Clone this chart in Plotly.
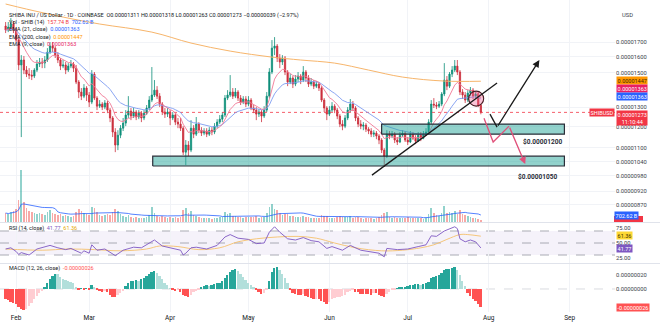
import numpy as np
import pandas as pd
import plotly.graph_objects as go

# ---------------------------------------------------------------- data
# Prices are listed in units of 0.00000001 USD (1e-8), volume in billions.
PRICE_UNIT = 1e-8
candle_dates = pd.date_range("2025-01-28", "2025-07-29", freq="D")

first_open_e8 = 1816
close_e8 = [
    1786, 1808, 1831, 1786,
    1714, 1547, 1579, 1515, 1490, 1484, 1478, 1515, 1553, 1566,
    1559, 1579, 1631, 1672, 1658, 1611, 1579, 1540, 1547, 1515,
    1540, 1553, 1527, 1442, 1384, 1361, 1407, 1367, 1328, 1490,
    1350, 1306, 1317, 1301, 1323, 1285, 1244, 1174, 1113, 1159,
    1193, 1218, 1259, 1280, 1254, 1275, 1249, 1269, 1244, 1269,
    1296, 1339, 1367, 1395, 1361, 1317, 1275, 1264, 1275, 1244,
    1259, 1223, 1213, 1193, 1081, 1113, 1090, 1193, 1164, 1213,
    1183, 1169, 1179, 1164, 1183, 1174, 1203, 1223, 1238, 1259,
    1350, 1367, 1384, 1361, 1384, 1350, 1328, 1345, 1317, 1339,
    1296, 1285, 1264, 1275, 1254, 1285, 1361, 1503, 1658, 1672,
    1592, 1566, 1592, 1503, 1442, 1466, 1430, 1460, 1478, 1454,
    1503, 1466, 1430, 1442, 1418, 1430, 1407, 1339, 1296, 1264,
    1285, 1306, 1285, 1254, 1213, 1203, 1244, 1285, 1317, 1296,
    1244, 1213, 1203, 1208, 1188, 1179, 1164, 1169, 1155, 1136,
    1090, 1063, 1164, 1155, 1164, 1136, 1127, 1159, 1169, 1136,
    1127, 1164, 1145, 1131, 1159, 1145, 1164, 1174, 1223, 1317,
    1312, 1306, 1317, 1373, 1454, 1418, 1490, 1515, 1540, 1503,
    1384, 1367, 1339, 1378, 1395, 1361, 1373, 1311, 1273,
]
high_e8 = [
    1846, 1846, 1876, 1853,
    1801, 1728, 1611, 1605, 1540, 1527, 1515, 1527, 1579, 1592,
    1592, 1605, 1658, 1700, 1700, 1672, 1631, 1592, 1579, 1566,
    1559, 1579, 1566, 1547, 1454, 1407, 1430, 1418, 1384, 1515,
    1503, 1361, 1339, 1328, 1339, 1334, 1296, 1254, 1193, 1183,
    1208, 1244, 1285, 1361, 1296, 1296, 1285, 1285, 1280, 1285,
    1312, 1361, 1534, 1454, 1418, 1378, 1328, 1296, 1296, 1285,
    1275, 1269, 1244, 1244, 1203, 1136, 1131, 1233, 1208, 1249,
    1223, 1198, 1193, 1193, 1198, 1198, 1218, 1238, 1259, 1275,
    1367, 1395, 1484, 1407, 1407, 1395, 1367, 1361, 1361, 1361,
    1350, 1312, 1301, 1290, 1285, 1306, 1384, 1527, 1714, 1735,
    1686, 1618, 1611, 1605, 1515, 1490, 1478, 1484, 1503, 1490,
    1540, 1515, 1484, 1466, 1454, 1448, 1442, 1418, 1350, 1306,
    1306, 1328, 1317, 1296, 1264, 1233, 1259, 1301, 1345, 1334,
    1306, 1254, 1233, 1223, 1218, 1198, 1193, 1183, 1179, 1164,
    1145, 1099, 1183, 1179, 1179, 1174, 1150, 1174, 1183, 1179,
    1150, 1179, 1174, 1159, 1174, 1174, 1179, 1193, 1238, 1339,
    1350, 1328, 1334, 1384, 1559, 1478, 1503, 1540, 1579, 1579,
    1515, 1401, 1384, 1395, 1413, 1407, 1390, 1384, 1318,
]
low_e8 = [
    1764, 1771, 1793, 1764,
    1700, 1515, 1150, 1490, 1472, 1460, 1454, 1466, 1503, 1534,
    1527, 1527, 1566, 1618, 1631, 1592, 1559, 1515, 1527, 1490,
    1503, 1527, 1503, 1430, 1350, 1339, 1350, 1334, 1301, 1317,
    1339, 1285, 1296, 1285, 1290, 1269, 1223, 1150, 1081, 1090,
    1145, 1179, 1203, 1244, 1233, 1244, 1233, 1238, 1223, 1233,
    1259, 1285, 1328, 1356, 1345, 1301, 1259, 1244, 1249, 1208,
    1233, 1208, 1193, 1179, 1068, 1025, 1063, 1081, 1145, 1155,
    1169, 1155, 1159, 1150, 1155, 1159, 1164, 1193, 1213, 1223,
    1249, 1339, 1356, 1345, 1350, 1334, 1312, 1317, 1301, 1306,
    1285, 1269, 1233, 1249, 1223, 1244, 1275, 1350, 1490, 1611,
    1566, 1527, 1547, 1484, 1418, 1430, 1407, 1418, 1442, 1430,
    1442, 1442, 1413, 1418, 1401, 1407, 1390, 1328, 1275, 1233,
    1254, 1275, 1269, 1238, 1198, 1183, 1193, 1233, 1275, 1280,
    1228, 1198, 1188, 1183, 1174, 1164, 1150, 1150, 1140, 1117,
    1077, 1017, 1055, 1140, 1145, 1122, 1113, 1122, 1150, 1127,
    1113, 1122, 1136, 1117, 1127, 1131, 1140, 1155, 1164, 1213,
    1296, 1290, 1296, 1306, 1361, 1395, 1407, 1472, 1503, 1484,
    1367, 1345, 1323, 1328, 1361, 1345, 1350, 1301, 1263,
]
volume_b = [
    900, 800, 1000, 1100,
    1300, 2200, 5200, 2000, 1400, 1100, 1000, 900, 800, 900,
    800, 700, 1000, 1200, 900, 800, 700, 800, 600, 700,
    600, 550, 600, 1000, 1300, 1100, 900, 800, 700, 1500,
    1400, 1000, 700, 650, 700, 800, 700, 1000, 1300, 1100,
    800, 600, 550, 700, 500, 450, 500, 400, 450, 420,
    500, 700, 1500, 900, 600, 550, 600, 500, 450, 550,
    450, 500, 450, 500, 1200, 1400, 900, 1100, 700, 650,
    500, 450, 400, 420, 380, 350, 400, 450, 500, 550,
    1000, 800, 900, 650, 600, 550, 500, 450, 500, 480,
    550, 500, 600, 450, 500, 550, 900, 1500, 1800, 1300,
    1200, 900, 700, 800, 850, 600, 650, 550, 500, 500,
    650, 550, 500, 450, 450, 400, 450, 700, 650, 600,
    450, 400, 420, 500, 650, 550, 500, 550, 600, 450,
    550, 500, 450, 350, 400, 380, 420, 350, 400, 500,
    700, 900, 1000, 550, 450, 500, 450, 400, 380, 450,
    500, 450, 400, 420, 400, 380, 350, 450, 800, 1400,
    900, 700, 650, 900, 1600, 900, 1000, 900, 1100, 800,
    1200, 800, 700, 600, 500, 450, 400, 328.9, 157.74,
]
macd_hist_e8 = [
    -14, -16, -18, -20,
    -22, -26, -29, -30, -28, -25, -20, -15, -10, -6,
    -3, 3, 8, 14, 19, 22, 21, 17, 14, 13,
    12, 10, 8, 2, -1, 1, -1, 1, -2, 5,
    2, -2, -3, -4, -3, -5, -8, -11, -12, -9,
    -6, -3, 4, 8, 11, 12, 13, 12, 14, 16,
    18, 21, 24, 25, 23, 19, 14, 9, 5, 1,
    -2, -3, -2, -4, -8, -10, -11, -8, -5, -3,
    -1, 3, 4, 5, 4, 5, 7, 8, 9, 11,
    16, 20, 24, 27, 28, 25, 21, 17, 13, 9,
    6, 3, -2, -5, -7, -6, -1, 12, 24, 30,
    31, 27, 22, 15, 8, -2, -6, -7, -8, -9,
    -7, -10, -12, -13, -15, -14, -15, -17, -19, -21,
    -18, -15, -13, -12, -11, -10, -8, -5, -3, -2,
    -4, -5, -7, -7, -7, -7, -8, -6, -6, -8,
    -10, -12, -7, -4, -2, -1, 1, 2, 2, 3,
    4, 5, 6, 7, 7, 6, 7, 8, 10, 15,
    17, 19, 20, 23, 27, 28, 29, 30, 31, 27,
    20, 12, 4, -6, -10, -14, -17, -21, -26,
]

ema200_dates = ["2025-01-28", "2025-02-05", "2025-02-19", "2025-03-05", "2025-03-25",
                "2025-04-09", "2025-04-24", "2025-05-10", "2025-05-21", "2025-06-03",
                "2025-06-16", "2025-06-29", "2025-07-15", "2025-07-29"]
ema200_e8 = [1988, 1947, 1884, 1831, 1771, 1693, 1638, 1598, 1579, 1559, 1515, 1472, 1448, 1447]

rsi_dates = ["2025-01-28", "2025-01-30", "2025-02-01", "2025-02-02", "2025-02-03", "2025-02-06",
             "2025-02-09", "2025-02-14", "2025-02-17", "2025-02-20", "2025-02-22", "2025-02-26",
             "2025-02-27", "2025-03-01", "2025-03-02", "2025-03-04", "2025-03-07", "2025-03-11",
             "2025-03-14", "2025-03-18", "2025-03-21", "2025-03-24", "2025-03-26", "2025-03-29",
             "2025-04-01", "2025-04-05", "2025-04-06", "2025-04-07", "2025-04-09", "2025-04-11",
             "2025-04-15", "2025-04-19", "2025-04-22", "2025-04-24", "2025-04-27", "2025-05-01",
             "2025-05-04", "2025-05-07", "2025-05-09", "2025-05-11", "2025-05-13", "2025-05-16",
             "2025-05-19", "2025-05-22", "2025-05-25", "2025-05-28", "2025-05-31", "2025-06-02",
             "2025-06-06", "2025-06-09", "2025-06-13", "2025-06-17", "2025-06-20", "2025-06-22",
             "2025-06-23", "2025-06-27", "2025-07-01", "2025-07-05", "2025-07-08", "2025-07-10",
             "2025-07-12", "2025-07-15", "2025-07-17", "2025-07-19", "2025-07-20", "2025-07-21",
             "2025-07-23", "2025-07-25", "2025-07-27", "2025-07-28", "2025-07-29"]
rsi_values = [40, 42, 36, 31, 34, 30,
              40, 46, 42, 39, 41, 33,
              37, 33, 47, 38, 40, 29,
              38, 43, 42, 49, 55, 45,
              42, 38, 30, 33, 42, 43,
              40, 46, 60, 64, 58, 56,
              49, 50, 68, 77, 68, 57,
              55, 59, 54, 52, 41, 44,
              38, 46, 38, 35, 33, 27,
              41, 39, 40, 44, 47, 62,
              61, 70, 73, 77, 74, 57,
              52, 55, 52, 46, 41.77]
rsi_ma_dates = ["2025-01-28", "2025-02-11", "2025-02-21", "2025-03-03", "2025-03-13",
                "2025-03-23", "2025-03-28", "2025-04-04", "2025-04-12", "2025-04-20",
                "2025-04-27", "2025-05-04", "2025-05-12", "2025-05-20", "2025-05-27",
                "2025-06-03", "2025-06-11", "2025-06-21", "2025-06-29", "2025-07-06",
                "2025-07-11", "2025-07-16", "2025-07-21", "2025-07-24", "2025-07-29"]
rsi_ma_values = [40, 38, 40, 39, 37, 40, 45, 44, 39, 42, 52, 57, 60, 61, 58,
                 50, 42, 37, 38, 42, 47, 56, 64, 64, 61.36]

month_ticks = ["2025-02-01", "2025-03-01", "2025-04-01", "2025-05-01",
               "2025-06-01", "2025-07-01", "2025-08-01", "2025-09-01"]
month_labels = ["Feb", "Mar", "Apr", "May", "Jun", "Jul", "Aug", "Sep"]
price_ticks_e8 = [1700, 1600, 1500, 1300, 1200, 1100, 1040, 980, 920, 870]

# chart drawings: support zones, trendline and projected paths (dates, prices in 1e-8)
zone_upper = dict(x0="2025-06-21", x1="2025-08-30", lo=1164, hi=1213)
zone_lower = dict(x0="2025-03-25 08:00", x1="2025-08-30", lo=1021, hi=1063)
trend_x = ["2025-06-17 07:00", "2025-08-04 05:00"]
trend_e8 = [983.5, 1436]
bull_x = ["2025-08-01 12:00", "2025-08-04 05:00", "2025-08-20 10:00"]
bull_e8 = [1264, 1198, 1579]
bear_x = ["2025-07-30 05:00", "2025-08-02 17:00", "2025-08-08 19:00", "2025-08-15 00:00"]
bear_e8 = [1243, 1127, 1203, 1029]
circle_center_x = "2025-07-27 05:00"
circle_center_e8 = 1347

assert len(close_e8) == len(high_e8) == len(low_e8) == len(volume_b) == len(macd_hist_e8) == len(candle_dates)

# ---------------------------------------------------------------- derived series
close = np.array(close_e8, float) * PRICE_UNIT
high = np.array(high_e8, float) * PRICE_UNIT
low = np.array(low_e8, float) * PRICE_UNIT
open_ = np.concatenate([[first_open_e8], close_e8[:-1]]).astype(float) * PRICE_UNIT
up = close >= open_

ema9 = pd.Series(close).ewm(span=9, adjust=False).mean()
ema21 = pd.Series(close).ewm(span=21, adjust=False).mean()
vol = np.array(volume_b, float)
vol_sma = pd.Series(vol).rolling(14, min_periods=1).mean()
hist = np.array(macd_hist_e8, float) * PRICE_UNIT

hist_colors = []
for i, h in enumerate(hist):
    prev = hist[i - 1] if i else h
    if h >= 0:
        hist_colors.append("#26A69A" if h >= prev else "#B2DFDB")
    else:
        hist_colors.append("#FF5252" if h <= prev else "#FFCDD2")

# ---------------------------------------------------------------- geometry
W, H = 660, 330
ML, MR, MT, MB = 0, 45, 0, 18
PW, PH = W - ML - MR, H - MT - MB
X_RANGE = ["2025-01-25 20:18", "2025-09-18 09:00"]


def py(pix):
    """paper y from a pixel row of the plotting area"""
    return 1 - pix / PH


def px(pix):
    return pix / PW


def ly(v_e8):
    """log10 position on the price axis (used by annotations)"""
    return float(np.log10(v_e8 * PRICE_UNIT))


UP, DOWN = "#0f8f7a", "#cc2f3c"
FONT = "Roboto"
TXT = "#131722"

fig = go.Figure()

fig.add_trace(go.Bar(
    x=candle_dates, y=vol, yaxis="y2",
    marker=dict(color=np.where(up, "rgba(38,166,154,0.5)", "rgba(239,83,80,0.5)"), line_width=0),
    width=0.62 * 86400000))
fig.add_trace(go.Scatter(x=candle_dates, y=vol_sma, yaxis="y2", mode="lines",
                         line=dict(color="#2962FF", width=0.8)))

# last price line
fig.add_trace(go.Scatter(x=X_RANGE, y=[close[-1]] * 2, mode="lines",
                         line=dict(color="#F23645", width=0.8, dash="dot")))

fig.add_trace(go.Candlestick(
    x=candle_dates, open=open_, high=high, low=low, close=close,
    increasing=dict(line=dict(color=UP, width=0.8), fillcolor=UP),
    decreasing=dict(line=dict(color=DOWN, width=0.8), fillcolor=DOWN),
    whiskerwidth=0))

fig.add_trace(go.Scatter(x=pd.to_datetime(ema200_dates), y=np.array(ema200_e8) * PRICE_UNIT,
                         mode="lines", line=dict(color="#F7B56B", width=1, shape="spline")))
fig.add_trace(go.Scatter(x=candle_dates, y=ema21, mode="lines",
                         line=dict(color="#7E9CF0", width=0.9)))
fig.add_trace(go.Scatter(x=candle_dates, y=ema9, mode="lines",
                         line=dict(color="#F07895", width=0.9)))

# support zones
for z in (zone_upper, zone_lower):
    fig.add_trace(go.Scatter(
        x=[z["x0"], z["x1"], z["x1"], z["x0"], z["x0"]],
        y=np.array([z["lo"], z["lo"], z["hi"], z["hi"], z["lo"]]) * PRICE_UNIT,
        mode="lines", fill="toself", fillcolor="rgba(38,166,154,0.5)",
        line=dict(color="#2a2e39", width=1.2)))

# highlighted breakdown
fig.add_trace(go.Scatter(x=[circle_center_x], y=[circle_center_e8 * PRICE_UNIT], mode="markers",
                         marker=dict(symbol="circle", size=15, color="rgba(240,98,146,0.38)",
                                     line=dict(color="#4a1c24", width=1.1))))

# trendline and projected paths
fig.add_trace(go.Scatter(x=trend_x, y=np.array(trend_e8) * PRICE_UNIT, mode="lines",
                         line=dict(color="#1b1b1b", width=1.3)))
fig.add_trace(go.Scatter(x=bull_x[:-1], y=np.array(bull_e8[:-1]) * PRICE_UNIT, mode="lines",
                         line=dict(color="#1b1b1b", width=1.3)))
fig.add_trace(go.Scatter(x=bear_x[:-1], y=np.array(bear_e8[:-1]) * PRICE_UNIT, mode="lines",
                         line=dict(color="#E0507A", width=1.3)))

# RSI pane
fig.add_trace(go.Scatter(x=pd.to_datetime(rsi_ma_dates), y=rsi_ma_values, yaxis="y3", mode="lines",
                         line=dict(color="#F5C16C", width=0.9, shape="spline")))
fig.add_trace(go.Scatter(x=pd.to_datetime(rsi_dates), y=rsi_values, yaxis="y3", mode="lines",
                         line=dict(color="#7E57C2", width=0.9)))

# MACD pane
fig.add_trace(go.Bar(x=candle_dates, y=hist, yaxis="y4",
                     marker=dict(color=hist_colors, line_width=0), width=0.7 * 86400000))

# ---------------------------------------------------------------- axes
price_range = [ly(811), ly(2021)]
axis_font = dict(family=FONT, size=5.8, color="#3b3f4a")
grid = "#f1f3f7"

fig.update_layout(
    width=W, height=H, margin=dict(l=ML, r=MR, t=MT, b=MB),
    paper_bgcolor="white", plot_bgcolor="white",
    showlegend=False, hovermode=False, bargap=0,
    font=dict(family=FONT, size=6, color=TXT),
    xaxis=dict(type="date", range=X_RANGE,
               anchor="y4", tickmode="array", tickvals=month_ticks, ticktext=month_labels,
               tickfont=dict(family=FONT, size=6.5, color=TXT), ticks="",
               showgrid=True, gridcolor=grid, gridwidth=1, zeroline=False,
               rangeslider=dict(visible=False), showline=False),
    yaxis=dict(type="log", domain=[py(222), 1], range=price_range, side="right",
               tickmode="array", tickvals=[v * PRICE_UNIT for v in price_ticks_e8],
               ticktext=[f"{v * PRICE_UNIT:.8f}" for v in price_ticks_e8],
               tickfont=axis_font, ticks="", showgrid=True, gridcolor=grid, zeroline=False),
    yaxis2=dict(overlaying="y", range=[0, 22300], visible=False, fixedrange=True),
    yaxis3=dict(domain=[py(263), py(223)], range=[16.7, 83.3], side="right",
                tickmode="array", tickvals=[25, 50, 75], ticktext=["25.00", "50.00", "75.00"],
                tickfont=axis_font, ticks="", showgrid=False, zeroline=False),
    yaxis4=dict(domain=[0, py(264)], range=[-32.9e-8, 35.7e-8], side="right",
                tickmode="array", tickvals=[20e-8, 0],
                ticktext=["0.00000020", "0.00000000"],
                tickfont=axis_font, ticks="", showgrid=False, zeroline=False),
)

# ---------------------------------------------------------------- shapes
shapes = []
# RSI band and guide lines
shapes.append(dict(type="rect", xref="paper", yref="y3", x0=0, x1=1, y0=30, y1=70,
                   fillcolor="rgba(126,87,194,0.08)", line_width=0, layer="below"))
for lvl in (70, 50, 30):
    shapes.append(dict(type="line", xref="paper", yref="y3", x0=0, x1=1, y0=lvl, y1=lvl,
                       line=dict(color="#9598A1", width=0.8, dash="dash"), layer="below"))
shapes.append(dict(type="line", xref="paper", yref="y4", x0=0, x1=1, y0=0, y1=0,
                   line=dict(color="#c9ccd3", width=0.7, dash="dash"), layer="below"))
# pane separators
for pix in (222.5, 263.5):
    shapes.append(dict(type="line", xref="paper", yref="paper", x0=0, x1=W / PW,
                       y0=py(pix), y1=py(pix), line=dict(color="#e0e3eb", width=1)))
# volume value marker peeking out under the volume-average label
shapes.append(dict(type="rect", xref="paper", yref="paper", x0=px(614), x1=px(643),
                   y0=py(222), y1=py(216), fillcolor="#F23645", line_width=0))
fig.update_layout(shapes=shapes)

# ---------------------------------------------------------------- annotations
ann = []


def header(text, pix_y, x_pix=7):
    ann.append(dict(xref="paper", yref="paper", x=px(x_pix), y=py(pix_y), xanchor="left",
                    yanchor="middle", text=text, showarrow=False,
                    font=dict(family=FONT, size=5.5, color=TXT)))


def span(text, color):
    return f"<span style='color:{color}'>{text}</span>"


header("SHIBA INU / US Dollar · 1D · COINBASE  O0.00001311 H0.00001318 L0.00001263 "
       "C0.00001273 −0.00000039 (−2.97%)", 15)
header(f"Vol · SHIB (14)  {span('157.74 B', '#F23645')}  {span('702.62 B', '#2962FF')}", 22.7)
header(f"EMA (21, close)  {span('0.00001363', '#2962FF')}", 30)
header(f"EMA (200, close)  {span('0.00001447', '#FF9800')}", 37.3)
header(f"EMA (9, close)  {span('0.00001363', '#E91E63')}", 44.5)
header(f"RSI (14, close)  {span('41.77', '#7E57C2')}  {span('61.36', '#E6A800')}", 229)
header(f"MACD (12, 26, close)  {span('-0.00000026', '#FF5252')}", 268.5)

ann.append(dict(xref="paper", yref="paper", x=px(620), y=py(15), xanchor="left", yanchor="middle",
                text="USD", showarrow=False, font=dict(family=FONT, size=5.8, color="#3b3f4a")))


def tag(text, yref, y, bg, fg="white", yshift=0, x=1.0, xanchor="left", xshift=1):
    ann.append(dict(xref="paper", yref=yref, x=x, y=y, xanchor=xanchor, yanchor="middle",
                    xshift=xshift, yshift=yshift, text=text, showarrow=False, bgcolor=bg,
                    borderpad=0.6, font=dict(family=FONT, size=5.5, color=fg)))


tag("0.00001447", "y", ly(1447), "#FF9800", fg="#3d2600", yshift=0.5)
tag("0.00001363", "y", ly(1363), "#E91E63", yshift=7.5)
tag("0.00001363", "y", ly(1363), "#2962FF", yshift=-0.3)
tag("0.00001273<br>11:10:44", "y", ly(close_e8[-1]), "#F23645", yshift=-5.5)
tag("SHIBUSD", "y", ly(close_e8[-1]), "#F23645", x=1.0, xanchor="right", xshift=0)
tag("702.62 B", "paper", py(215), "#2962FF", xshift=-1)
tag("61.36", "y3", rsi_ma_values[-1], "#FDD835", fg="#3d3200", yshift=1)
tag("41.77", "y3", rsi_values[-1], "#7E57C2", yshift=-1)
tag("-0.00000026", "y4", hist[-1], "#FF5252")

# zone price labels
ann.append(dict(xref="x", yref="y", x=zone_upper["x1"], y=ly(1127), xanchor="right",
                yanchor="middle", text="<b>$0.00001200</b>", showarrow=False,
                font=dict(family=FONT, size=6.5, color="#2a2e39")))
ann.append(dict(xref="x", yref="y", x="2025-08-28", y=ly(975), xanchor="right",
                yanchor="middle", text="<b>$0.00001050</b>", showarrow=False,
                font=dict(family=FONT, size=6.5, color="#2a2e39")))

# arrow heads on the projected paths
for xs, ys, col in ((bull_x, bull_e8, "#1b1b1b"), (bear_x, bear_e8, "#E0507A")):
    ann.append(dict(xref="x", yref="y", axref="x", ayref="y",
                    x=xs[-1], y=ly(ys[-1]), ax=xs[-2], ay=ly(ys[-2]),
                    text="", showarrow=True, arrowhead=2, arrowsize=1.1,
                    arrowwidth=1.3, arrowcolor=col, standoff=0))

fig.update_layout(annotations=ann)

fig.write_html("out.html")
